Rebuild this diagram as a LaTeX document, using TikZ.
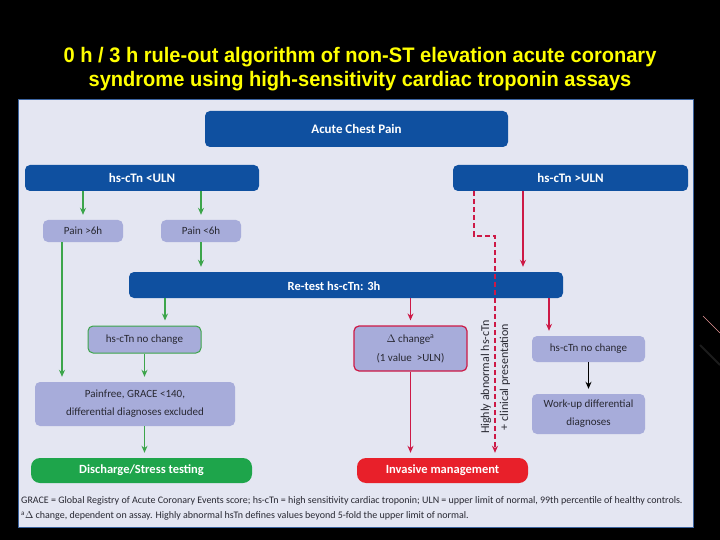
\documentclass[tikz,border=0pt]{standalone}
\usepackage{fontspec}
\setmainfont{Carlito}
\newfontfamily\titlefont{Liberation Sans}
\usetikzlibrary{arrows.meta}
\definecolor{bgpanel}{RGB}{228,230,242}
\definecolor{pborder}{RGB}{60,100,160}
\definecolor{dblue}{RGB}{15,80,160}
\definecolor{lpurple}{RGB}{167,172,218}
\definecolor{agreen}{RGB}{60,165,75}
\definecolor{dgreen}{RGB}{30,165,75}
\definecolor{ared}{RGB}{232,32,42}
\definecolor{crimson}{RGB}{205,25,70}
\definecolor{ttl}{RGB}{255,255,0}
\definecolor{txt}{RGB}{40,40,50}
\tikzset{
  box/.style={rounded corners=5pt, inner sep=0pt, align=center, font=\fontsize{11}{12}\selectfont, text=txt},
  darkbox/.style={box, fill=dblue, text=white, font=\bfseries\fontsize{12.5}{14}\selectfont},
  lightbox/.style={box, fill=lpurple},
  garrow/.style={draw=agreen, line width=1.3pt, -{Stealth[length=7pt,width=6pt]}, shorten >=5pt},
  rarrow/.style={draw=crimson, line width=1.3pt, -{Stealth[length=7pt,width=6pt]}, shorten >=5pt},
  karrow/.style={draw=black, line width=1.3pt, -{Stealth[length=7pt,width=6pt]}, shorten >=5pt},
  dasharrow/.style={draw=crimson, line width=2.2pt, dash pattern=on 5pt off 3pt, -{Stealth[length=7pt,width=6pt]}, shorten >=5pt},
}
\begin{document}
\begin{tikzpicture}[x=1pt,y=-1pt]
\fill[black] (0,0) rectangle (720,540);
\useasboundingbox (0,0) rectangle (720,540);
% decoration
\draw[color={rgb,255:red,230;green,150;blue,150}, line width=0.6pt] (703,316) -- (720,333);
\draw[color={rgb,255:red,28;green,28;blue,28}, line width=2pt] (700,345) -- (720,365);
% title
\node[text=ttl, font=\titlefont\bfseries\fontsize{21}{24}\selectfont, align=center, xscale=0.955] (title) at (360,69) {0 h / 3 h rule-out algorithm of non-ST elevation acute coronary\\syndrome using high-sensitivity cardiac troponin assays};
% panel
\draw[fill=bgpanel, draw=pborder, line width=1pt] (18,100) rectangle (693,527);
% boxes
\node[darkbox, font=\bfseries\fontsize{13}{14}\selectfont, minimum width=303pt, minimum height=36pt] (acp) at (356.5,129) {Acute Chest Pain};
\node[darkbox, font=\bfseries\fontsize{13}{14}\selectfont, minimum width=234pt, minimum height=26pt] (lo) at (142,178) {hs-cTn <ULN};
\node[darkbox, font=\bfseries\fontsize{13}{14}\selectfont, minimum width=235pt, minimum height=26pt] (hi) at (570.5,178) {hs-cTn >ULN};
\node[lightbox, minimum width=80pt, minimum height=22pt] (p6a) at (83,231) {Pain >6h};
\node[lightbox, minimum width=80pt, minimum height=22pt] (p6b) at (201,231) {Pain <6h};
\node[darkbox, minimum width=434pt, minimum height=26pt] (rt) at (346,285) {};
\node[text=white, font=\bfseries\fontsize{12.5}{14}\selectfont, inner sep=0pt] (rtl) at (334,286) {Re-test hs-cTn: 3h};
\node[lightbox, draw=agreen, line width=1pt, minimum width=113pt, minimum height=27pt] (nc1) at (144.5,339.5) {hs-cTn no change};
\node[lightbox, draw=crimson, line width=1.2pt, minimum width=113pt, minimum height=45pt, font=\fontsize{11}{19}\selectfont] (dc) at (410.5,348.5) {$\Delta$ change\textsuperscript{a}\\(1 value \ >ULN)};
\node[lightbox, minimum width=113pt, minimum height=26pt] (nc2) at (588.5,349) {hs-cTn no change};
\node[lightbox, minimum width=113pt, minimum height=40pt, font=\fontsize{11}{18}\selectfont] (wu) at (588.5,414) {Work-up differential\\diagnoses};
\node[lightbox, minimum width=200pt, minimum height=44pt, font=\fontsize{11}{18}\selectfont] (pf) at (135,404) {Painfree, GRACE <140,\\differential diagnoses excluded};
\node[box, fill=dgreen, rounded corners=9pt, text=white, font=\bfseries\fontsize{12.5}{14}\selectfont, minimum width=221pt, minimum height=25pt] (dis) at (141.5,470.5) {Discharge/Stress testing};
\node[box, fill=ared, rounded corners=9pt, text=white, font=\bfseries\fontsize{12.5}{14}\selectfont, minimum width=171pt, minimum height=25pt] (inv) at (442.5,470.5) {Invasive management};
% x positions
\coordinate (x62) at (62,0);
\coordinate (x165) at (165,0);
\coordinate (x474) at (474,0);
\coordinate (x495) at (495,0);
\coordinate (x523) at (523,0);
\coordinate (x549) at (549,0);
\coordinate (bend1) at (474,236);
\coordinate (bend2) at (495,236);
% green arrows
\draw[garrow] (lo.south -| p6a.north) -- (p6a.north);
\draw[garrow] (lo.south -| p6b.north) -- (p6b.north);
\draw[garrow] (p6b.south) -- (rt.north -| p6b.south);
\draw[garrow] (p6a.south -| x62) -- (pf.north -| x62);
\draw[garrow] (rt.south -| x165) -- (nc1.north -| x165);
\draw[garrow] (nc1.south) -- (pf.north -| nc1.south);
\draw[garrow] (pf.south -| nc1.south) -- (dis.north -| nc1.south);
% red arrows
\draw[rarrow] (hi.south -| x523) -- (rt.north -| x523);
\draw[rarrow] (rt.south -| dc.north) -- (dc.north);
\draw[rarrow] (dc.south) -- (inv.north -| dc.south);
\draw[rarrow] (rt.south -| x549) -- (nc2.north -| x549);
\draw[karrow] (nc2.south) -- (wu.north);
\draw[dasharrow] (hi.south -| x474) -- (bend1) -- (bend2) -- (inv.north -| x495);
% rotated labels
\node[rotate=90, font=\fontsize{12}{14}\selectfont, text=txt, inner sep=0pt] (ha) at (486,377) {Highly abnormal hs-cTn};
\node[rotate=90, font=\fontsize{12}{14}\selectfont, text=txt, inner sep=0pt] (cp) at (505,377) {+ clinical presentation};
% footnote
\node[anchor=west, font=\fontsize{10}{12}\selectfont, text=txt, inner sep=0pt] (fn1) at (21,501) {GRACE = Global Registry of Acute Coronary Events score; hs-cTn = high sensitivity cardiac troponin; ULN = upper limit of normal, 99th percentile of healthy controls.};
\node[anchor=west, font=\fontsize{10}{12}\selectfont, text=txt, inner sep=0pt] (fn2) at (21,516) {\textsuperscript{a}$\Delta$ change, dependent on assay. Highly abnormal hsTn defines values beyond 5-fold the upper limit of normal.};
\end{tikzpicture}
\end{document}
